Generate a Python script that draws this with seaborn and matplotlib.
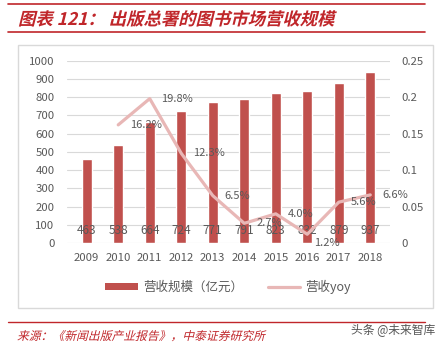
import numpy as np
import pandas as pd
import seaborn as sns
import matplotlib.pyplot as plt
from matplotlib.patches import Rectangle, Patch, PathPatch
from matplotlib.lines import Line2D
from matplotlib.ticker import FuncFormatter
from matplotlib.textpath import TextPath
from matplotlib.font_manager import FontProperties
from matplotlib.transforms import Affine2D

years = ['2009', '2010', '2011', '2012', '2013', '2014', '2015', '2016', '2017', '2018']
revenue = [463, 538, 664, 724, 771, 791, 823, 832, 879, 937]
yoy_years = ['2010', '2011', '2012', '2013', '2014', '2015', '2016', '2017', '2018']
yoy = [0.162, 0.198, 0.123, 0.065, 0.027, 0.040, 0.012, 0.056, 0.066]
yoy_labels = ['16.2%', '19.8%', '12.3%', '6.5%', '2.7%', '4.0%', '1.2%', '5.6%', '6.6%']

title = '图表 121： 出版总署的图书市场营收规模'
source = '来源：《新闻出版产业报告》，中泰证券研究所'
watermark = '头条 @未来智库'
bar_name = '营收规模（亿元）'
line_name = '营收yoy'

sns.set_style('white')
plt.rcParams['font.family'] = ['Noto Sans CJK SC', 'DejaVu Sans']

BAR = '#C0504D'
LINE = '#E8B7B6'
GREY = '#595959'
TITLE_RED = '#C0262A'
W, H = 445, 346


def slanted_text(fig, s, x_px, base_px, size, color, weight='normal', slant=14):
    # CJK fonts have no italic, so shear the glyph outlines by hand
    fp = FontProperties(family='Noto Sans CJK SC', weight=weight, size=size)
    tp = TextPath((0, 0), s, prop=fp)
    tr = Affine2D().skew_deg(slant, 0).scale(100 / 72).translate(x_px, H - base_px)
    fig.add_artist(PathPatch(tp, transform=tr, facecolor=color, edgecolor='none'))


fig = plt.figure(figsize=(W / 100, H / 100), dpi=100)

# chart frame
fig.patches.append(Rectangle((18 / W, 1 - 308 / H), 415 / W, 263 / H,
                             transform=fig.transFigure, fill=False,
                             edgecolor='#D9D9D9', lw=1.0))
# red rules
fig.add_artist(Line2D([8 / W, 425 / W], [1 - 4 / H] * 2, color=TITLE_RED, lw=1.2))
fig.add_artist(Line2D([8 / W, 425 / W], [1 - 32 / H] * 2, color=TITLE_RED, lw=1.2))
fig.add_artist(Line2D([8 / W, 425 / W], [1 - 322 / H] * 2, color=TITLE_RED, lw=1.0))
slanted_text(fig, title, 18, 25, 12.5, TITLE_RED, weight='bold')
slanted_text(fig, source, 17, 340, 8.5, TITLE_RED)
fig.text(435 / W, 1 - 331 / H, watermark, color='#555555', fontsize=8.5,
         va='center', ha='right')

ax = fig.add_axes([67 / W, 1 - 243 / H, 323 / W, 182.3 / H])
df = pd.DataFrame({'year': years, 'revenue': revenue})
sns.barplot(data=df, x='year', y='revenue', color=BAR, saturation=1,
            width=0.32, ax=ax, zorder=2)
ax.set_ylim(0, 1000)
ax.set_yticks(np.arange(0, 1001, 100))
ax.set_xlabel('')
ax.set_ylabel('')
ax.grid(axis='y', color='#D9D9D9', lw=0.8, zorder=0)
ax.set_axisbelow(True)
for s in ax.spines.values():
    s.set_visible(False)
ax.tick_params(axis='x', length=0, pad=7, labelsize=8.2, labelcolor=GREY)
ax.tick_params(axis='y', length=0, pad=9, labelsize=8.2, labelcolor=GREY)
for i, v in enumerate(revenue):
    ax.text(i, 66, str(v), ha='center', va='center', fontsize=8.5, color=GREY, zorder=5)

ax2 = ax.twinx()
pos = [years.index(y) for y in yoy_years]
ldf = pd.DataFrame({'pos': pos, 'yoy': yoy})
sns.lineplot(data=ldf, x='pos', y='yoy', color=LINE, lw=2.3, ax=ax2)
ax2.set_ylim(0, 0.25)
ax2.set_yticks(np.arange(0, 0.251, 0.05))
ax2.yaxis.set_major_formatter(FuncFormatter(lambda v, p: '%g' % round(v, 2)))
ax2.set_xlim(ax.get_xlim())
ax2.set_ylabel('')
ax2.set_xlabel('')
for s in ax2.spines.values():
    s.set_visible(False)
ax2.tick_params(axis='y', length=0, pad=8, labelsize=8.2, labelcolor=GREY)
ax2.grid(False)

offsets = {'2016': (5, -6)}
for p, v, lab, yr in zip(pos, yoy, yoy_labels, yoy_years):
    ax2.annotate(lab, (p, v), xytext=offsets.get(yr, (8.5, 0)), textcoords='offset points',
                 ha='left', va='center', fontsize=8, color=GREY)

handles = [Patch(facecolor=BAR, edgecolor='none'),
           Line2D([0], [0], color=LINE, lw=2.3)]
fig.legend(handles, [bar_name, line_name], loc='center', ncol=2,
           bbox_to_anchor=(228 / W, 1 - 287 / H), frameon=False,
           fontsize=9, labelcolor=GREY, handlelength=2.6, handleheight=0.5,
           columnspacing=2.0, handletextpad=0.4)

fig.savefig('out.png', dpi=100)
